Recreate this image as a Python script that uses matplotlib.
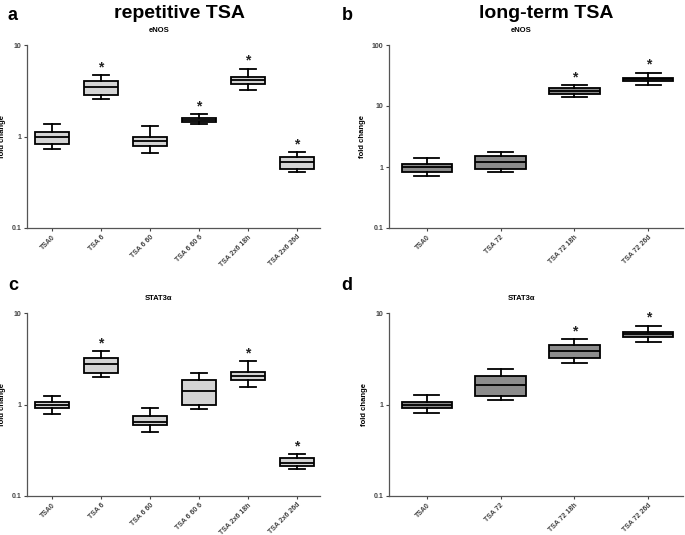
import matplotlib
matplotlib.use("Agg")
import matplotlib.pyplot as plt

plt.rcParams['font.family'] = ['Liberation Sans', 'DejaVu Sans']

# box stats: whisker low, Q1, median, Q3, whisker high
rep_labels = ["TSA0", "TSA 6", "TSA 6 60", "TSA 6 60 6", "TSA 2x6 18h", "TSA 2x6 26d"]
long_labels = ["TSA0", "TSA 72", "TSA 72 18h", "TSA 72 26d"]

enos_rep_lo = [0.73, 2.58, 0.66, 1.36, 3.26, 0.41]
enos_rep_q1 = [0.83, 2.85, 0.79, 1.43, 3.79, 0.44]
enos_rep_med = [1.00, 3.51, 0.90, 1.52, 4.12, 0.52]
enos_rep_q3 = [1.13, 4.05, 1.00, 1.58, 4.44, 0.59]
enos_rep_hi = [1.37, 4.70, 1.29, 1.77, 5.52, 0.68]
enos_rep_sig = [False, True, False, True, True, True]

enos_long_lo = [0.72, 0.83, 14.3, 22.3]
enos_long_q1 = [0.83, 0.93, 15.9, 25.5]
enos_long_med = [1.00, 1.21, 17.7, 27.5]
enos_long_q3 = [1.13, 1.50, 19.6, 29.3]
enos_long_hi = [1.39, 1.74, 21.7, 35.4]
enos_long_sig = [False, False, True, True]

stat_rep_lo = [0.79, 2.02, 0.50, 0.89, 1.54, 0.196]
stat_rep_q1 = [0.92, 2.23, 0.59, 1.00, 1.87, 0.215]
stat_rep_med = [1.00, 2.76, 0.65, 1.39, 2.07, 0.232]
stat_rep_q3 = [1.07, 3.26, 0.75, 1.86, 2.29, 0.257]
stat_rep_hi = [1.25, 3.80, 0.91, 2.22, 2.97, 0.289]
stat_rep_sig = [False, True, False, False, True, True]

stat_long_lo = [0.80, 1.12, 2.83, 4.82]
stat_long_q1 = [0.92, 1.24, 3.26, 5.46]
stat_long_med = [1.00, 1.64, 3.88, 5.83]
stat_long_q3 = [1.06, 2.05, 4.50, 6.13]
stat_long_hi = [1.26, 2.42, 5.19, 7.30]
stat_long_sig = [False, False, True, True]


def panel(ax, labels, lo, q1, med, q3, hi, sig, fill, ylim, yticks, name):
    stats = []
    for i in range(len(labels)):
        stats.append(dict(whislo=lo[i], q1=q1[i], med=med[i], q3=q3[i],
                          whishi=hi[i], fliers=[], label=labels[i]))
    ax.set_yscale('log')
    ax.bxp(stats, positions=range(len(labels)), widths=0.68, patch_artist=True,
           showfliers=False,
           boxprops=dict(facecolor=fill, edgecolor='black', linewidth=1.3),
           medianprops=dict(color='black', linewidth=1.3),
           whiskerprops=dict(color='black', linewidth=1.3),
           capprops=dict(color='black', linewidth=1.3),
           capwidths=0.34)
    for i in range(len(labels)):
        if sig[i]:
            ax.annotate('*', xy=(i, hi[i]), xytext=(0, 0.5), textcoords='offset points',
                        ha='center', va='bottom', fontsize=10, fontweight='bold',
                        color='#222222')
    ax.set_xlim(-0.51, len(labels) - 0.53)
    ax.set_ylim(*ylim)
    ax.set_yticks(yticks)
    ax.set_yticklabels([('%g' % t) for t in yticks], fontsize=5, fontweight='bold')
    ax.minorticks_off()
    ax.set_xticks(range(len(labels)))
    ax.set_xticklabels(labels, rotation=45, ha='right', rotation_mode='anchor',
                       fontsize=5, fontweight='bold')
    ax.tick_params(length=2.5, width=0.8, colors='#444444', pad=1.5)
    for s in ['top', 'right']:
        ax.spines[s].set_visible(False)
    for s in ['left', 'bottom']:
        ax.spines[s].set_color('#555555')
        ax.spines[s].set_linewidth(0.9)
    ax.set_ylabel('fold change', fontsize=5.5, fontweight='bold', labelpad=4)
    ax.text(0.45, 1.08, name, transform=ax.transAxes, ha='center', va='center',
            fontsize=5.5, fontweight='bold')


fig = plt.figure(figsize=(6.85, 5.35), dpi=100)
W, H = 685.0, 535.0
ax_a = fig.add_axes([27 / W, 1 - 228 / H, 293 / W, 183 / H])
ax_b = fig.add_axes([389 / W, 1 - 228 / H, 294 / W, 183 / H])
ax_c = fig.add_axes([27 / W, 1 - 496 / H, 293 / W, 183 / H])
ax_d = fig.add_axes([389 / W, 1 - 496 / H, 294 / W, 183 / H])

light = '#d4d4d4'
dark = '#8c8c8c'
panel(ax_a, rep_labels, enos_rep_lo, enos_rep_q1, enos_rep_med, enos_rep_q3,
      enos_rep_hi, enos_rep_sig, light, (0.1, 10), [0.1, 1, 10], 'eNOS')
panel(ax_b, long_labels, enos_long_lo, enos_long_q1, enos_long_med, enos_long_q3,
      enos_long_hi, enos_long_sig, dark, (0.1, 100), [0.1, 1, 10, 100], 'eNOS')
panel(ax_c, rep_labels, stat_rep_lo, stat_rep_q1, stat_rep_med, stat_rep_q3,
      stat_rep_hi, stat_rep_sig, light, (0.1, 10), [0.1, 1, 10], 'STAT3α')
panel(ax_d, long_labels, stat_long_lo, stat_long_q1, stat_long_med, stat_long_q3,
      stat_long_hi, stat_long_sig, dark, (0.1, 10), [0.1, 1, 10], 'STAT3α')

fig.text(179 / W, 1 - 13 / H, 'repetitive TSA', ha='center', va='center',
         fontsize=14, fontweight='bold')
fig.text(546 / W, 1 - 13 / H, 'long-term TSA', ha='center', va='center',
         fontsize=14, fontweight='bold')
for lab, x, y in [('a', 12, 15), ('b', 347, 15), ('c', 13, 285), ('d', 347, 285)]:
    fig.text(x / W, 1 - y / H, lab, ha='center', va='center', fontsize=13,
             fontweight='bold')

fig.savefig('out.png', dpi=100)
